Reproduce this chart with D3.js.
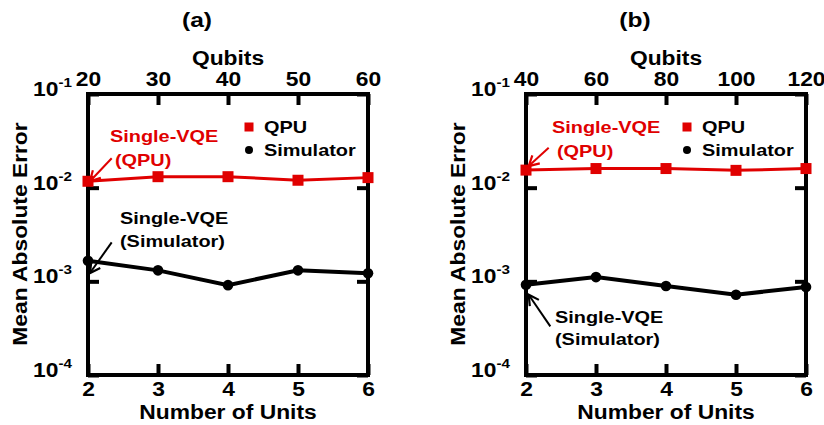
<!DOCTYPE html>
<html>
<head>
<meta charset="utf-8">
<script src="https://cdn.jsdelivr.net/npm/d3@7"></script>
<style>
  body { margin: 0; background: #fff; }
</style>
</head>
<body>
<script>
// Data
const units = [2, 3, 4, 5, 6];
const qubitsA = [20, 30, 40, 50, 60];
const qubitsB = [40, 60, 80, 100, 120];
const qpuA = [0.0117, 0.0131, 0.0131, 0.0120, 0.0128];
const simA = [0.00166, 0.00131, 0.00091, 0.00131, 0.00122];
const qpuB = [0.0154, 0.0160, 0.0160, 0.0153, 0.0160];
const simB = [0.00092, 0.00111, 0.00089, 0.00072, 0.00087];
const yTicks = [1e-1, 1e-2, 1e-3, 1e-4];
const yTickExp = ["-1", "-2", "-3", "-4"];

// Dimension
const W = 824, H = 425;
const plotW = 280, plotTop = 94, plotBottom = 375;
const SX = 1.17;               // glyphs in the figure are drawn a bit wide
const FONT = '"Liberation Sans", Arial, sans-serif';
const RED = '#e00000';

const panels = [
  { title: '(a)', left: 88, qubits: qubitsA, qpu: qpuA, sim: simA,
    redNote: { lines: [[22, 142], [27, 166]], from: [23.7, -23], to: [2, 0] },
    blackNote: { lines: [[32, 224], [32, 247]], from: [23.7, -18.4], to: [2, 12.3] } },
  { title: '(b)', left: 526, qubits: qubitsB, qpu: qpuB, sim: simB,
    redNote: { lines: [[26, 133], [31, 157]], from: [22.7, -22.4], to: [2.7, -4] },
    blackNote: { lines: [[29, 323], [29, 345]], from: [24.3, 41.6], to: [2.7, 10] } }
];

const svg = d3.select('body').append('svg')
  .attr('width', W).attr('height', H)
  .attr('font-family', FONT).attr('font-weight', 'bold');

// arrow heads
const defs = svg.append('defs');
[['red', RED], ['black', '#000']].forEach(([name, color]) => {
  defs.append('marker').attr('id', 'arr-' + name)
    .attr('viewBox', '-11 -7 13 14').attr('refX', 0).attr('refY', 0)
    .attr('markerWidth', 13).attr('markerHeight', 14)
    .attr('markerUnits', 'userSpaceOnUse').attr('orient', 'auto')
    .append('path').attr('d', 'M-10,-5.5L0,0L-10,5.5')
    .attr('fill', 'none').attr('stroke', color).attr('stroke-width', 2.2);
});

function wideText(g, x, y, str, size, anchor, color) {
  return g.append('text')
    .attr('transform', `translate(${x},${y}) scale(${SX},1)`)
    .attr('font-size', size).attr('text-anchor', anchor || 'start')
    .attr('fill', color || '#000').text(str);
}

function styleAxis(a) {
  a.attr('font-family', FONT).attr('font-size', 19.5);
  a.select('.domain').remove();
  a.selectAll('.tick line').attr('stroke', '#000').attr('stroke-width', 4);
  a.selectAll('.tick text').attr('fill', '#000')
    .attr('transform', `scale(${SX},1)`);
}

function drawPanel(p) {
  const xScale = d3.scaleLinear().domain([2, 6]).range([p.left, p.left + plotW]);
  const yScale = d3.scaleLog().domain([1e-4, 1e-1]).range([plotBottom, plotTop]);
  const g = svg.append('g');

  // axes
  g.append('g').attr('transform', `translate(0,${plotBottom})`)
    .call(d3.axisBottom(xScale).tickValues(units).tickFormat(d3.format('d'))
      .tickSizeInner(-11).tickSizeOuter(0).tickPadding(7))
    .call(styleAxis);
  g.append('g').attr('transform', `translate(0,${plotTop})`)
    .call(d3.axisTop(xScale).tickValues(units).tickFormat((d, i) => p.qubits[i])
      .tickSizeInner(-11).tickSizeOuter(0).tickPadding(8))
    .call(styleAxis);
  g.append('g').attr('transform', `translate(${p.left},0)`)
    .call(d3.axisLeft(yScale).tickValues(yTicks).tickFormat('')
      .tickSizeInner(-11).tickSizeOuter(0))
    .call(styleAxis);
  g.append('g').attr('transform', `translate(${p.left + plotW},0)`)
    .call(d3.axisRight(yScale).tickValues(yTicks).tickFormat('')
      .tickSizeInner(-11).tickSizeOuter(0))
    .call(styleAxis);

  // y tick labels with exponents
  const yl = g.selectAll('.ylab').data(yTicks).join('text')
    .attr('class', 'ylab')
    .attr('transform', d => `translate(${p.left - 16},${yScale(d) + 2}) scale(${SX},1)`)
    .attr('text-anchor', 'end').attr('font-size', 19.5);
  yl.append('tspan').text('10');
  yl.append('tspan').attr('dy', -9).attr('font-size', 13).text((d, i) => yTickExp[i]);

  // frame
  g.append('rect').attr('x', p.left).attr('y', plotTop)
    .attr('width', plotW).attr('height', plotBottom - plotTop)
    .attr('fill', 'none').attr('stroke', '#000').attr('stroke-width', 4);

  // titles
  wideText(g, p.left + 109, 27, p.title, 21, 'middle');
  wideText(g, p.left + 140, 65, 'Qubits', 19.5, 'middle');
  wideText(g, p.left + 140, 419, 'Number of Units', 19.5, 'middle');
  g.append('text')
    .attr('transform', `translate(${p.left - 61},234) rotate(-90) scale(1.14,1)`)
    .attr('text-anchor', 'middle').attr('font-size', 20)
    .text('Mean Absolute Error');

  // lines
  const line = d3.line().x((d, i) => xScale(units[i])).y(d => yScale(d));
  g.append('path').datum(p.qpu).attr('d', line)
    .attr('fill', 'none').attr('stroke', RED).attr('stroke-width', 3);
  g.append('path').datum(p.sim).attr('d', line)
    .attr('fill', 'none').attr('stroke', '#000').attr('stroke-width', 4);

  g.selectAll('.sq').data(p.qpu).join('rect').attr('class', 'sq')
    .attr('x', (d, i) => xScale(units[i]) - 5.5).attr('y', d => yScale(d) - 5.5)
    .attr('width', 11).attr('height', 11).attr('fill', RED);
  g.selectAll('.dot').data(p.sim).join('circle').attr('class', 'dot')
    .attr('cx', (d, i) => xScale(units[i])).attr('cy', d => yScale(d))
    .attr('r', 5.3).attr('fill', '#000');

  // legend
  const lx = p.left + 161;
  g.append('rect').attr('x', lx - 4.5).attr('y', 127 - 4.5)
    .attr('width', 9).attr('height', 9).attr('fill', RED);
  wideText(g, lx + 15, 133, 'QPU', 17);
  g.append('circle').attr('cx', lx).attr('cy', 150).attr('r', 4).attr('fill', '#000');
  wideText(g, lx + 15, 156, 'Simulator', 17);

  // annotations
  const notes = [
    { n: p.redNote, color: RED, id: 'red', v: p.qpu[0], text: ['Single-VQE', '(QPU)'] },
    { n: p.blackNote, color: '#000', id: 'black', v: p.sim[0], text: ['Single-VQE', '(Simulator)'] }
  ];
  notes.forEach(a => {
    a.text.forEach((t, i) =>
      wideText(g, p.left + a.n.lines[i][0], a.n.lines[i][1], t, 17, 'start', a.color));
    const px = xScale(units[0]), py = yScale(a.v);
    g.append('line')
      .attr('x1', px + a.n.from[0]).attr('y1', py + a.n.from[1])
      .attr('x2', px + a.n.to[0]).attr('y2', py + a.n.to[1])
      .attr('stroke', a.color).attr('stroke-width', 2)
      .attr('marker-end', `url(#arr-${a.id})`);
  });
}

panels.forEach(drawPanel);
</script>
</body>
</html>
